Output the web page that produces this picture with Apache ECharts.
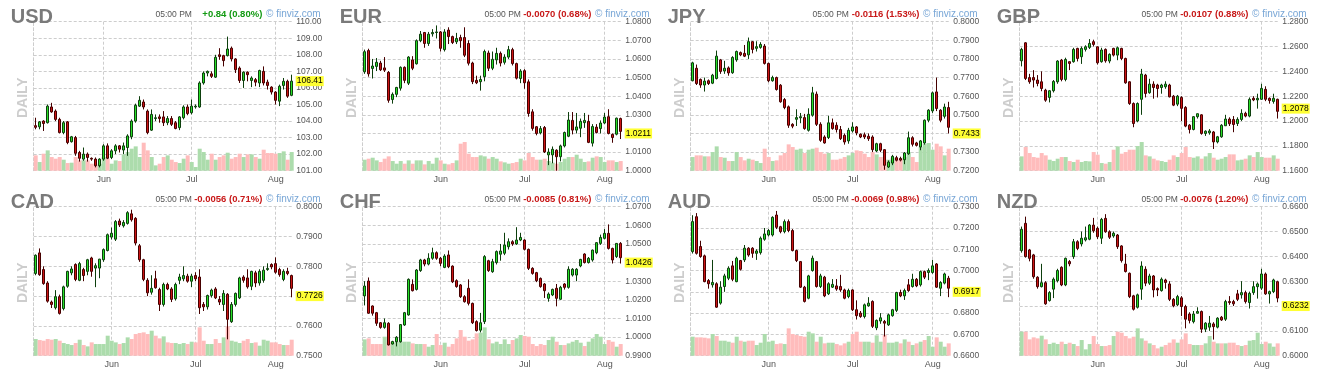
<!DOCTYPE html>
<html><head><meta charset="utf-8">
<script src="https://cdn.jsdelivr.net/npm/echarts@6/dist/echarts.min.js"></script>
<style>html,body{margin:0;padding:0;background:#fff}#c{width:1324px;height:383px}</style>
</head><body><div id="c"></div>
<script>
// Trading days (categories)
const usdDates = ["05-09","05-10","05-11","05-12","05-13","05-16","05-17","05-18","05-19","05-20","05-23","05-24","05-25","05-26","05-27","05-30","05-31",
"06-01","06-02","06-03","06-06","06-07","06-08","06-09","06-10","06-13","06-14","06-15","06-16","06-17","06-20","06-21","06-22","06-23","06-24","06-27","06-28","06-29","06-30",
"07-01","07-04","07-05","07-06","07-07","07-08","07-11","07-12","07-13","07-14","07-15","07-18","07-19","07-20","07-21","07-22","07-25","07-26","07-27","07-28","07-29",
"08-01","08-02","08-03","08-04","08-05"];
const futDates = ["05-04","05-05","05-06","05-09","05-10","05-11","05-12","05-13","05-16","05-17","05-18","05-19","05-20","05-23","05-24","05-25","05-26","05-27","05-31",
"06-01","06-02","06-03","06-06","06-07","06-08","06-09","06-10","06-13","06-14","06-15","06-16","06-17","06-21","06-22","06-23","06-24","06-27","06-28","06-29","06-30",
"07-01","07-05","07-06","07-07","07-08","07-11","07-12","07-13","07-14","07-15","07-18","07-19","07-20","07-21","07-22","07-25","07-26","07-27","07-28","07-29",
"08-01","08-02","08-03","08-04","08-05"];
const monthNames = {"05":"May","06":"Jun","07":"Jul","08":"Aug"};

// OHLC as [open, close, low, high]
const USD = [[103.72,103.62,103.5,104.2],[103.65,103.95,103.5,104.0],[104.0,103.85,103.4,104.05],[103.9,104.9,103.85,105.0],[104.85,104.55,104.5,105.1],[104.6,104.1,104.0,104.7],[104.1,103.3,103.25,104.2],[103.3,103.9,103.2,104.0],[103.95,102.7,102.6,104.0],[102.75,103.05,102.7,103.1],
[103.0,102.05,101.9,103.1],[102.1,101.75,101.55,102.2],[101.7,102.0,101.6,102.4],[102.0,101.8,101.55,102.1],[101.75,101.7,101.6,101.8],[101.7,101.3,101.2,101.8],[101.3,101.7,101.2,101.75],[101.7,102.5,101.6,102.6],[102.5,101.75,101.7,102.65],[101.8,102.2,101.7,102.3],
[102.2,102.5,102.0,102.6],[102.5,102.3,102.1,102.55],[102.25,102.5,102.0,102.7],[102.4,103.1,101.9,103.2],[103.05,104.0,102.9,104.1],[104.0,104.95,103.9,105.05],[104.9,105.25,104.85,105.5],[105.15,104.85,104.7,105.3],[104.6,103.3,103.2,104.7],[103.45,104.4,103.4,104.7],
[104.15,104.2,104.0,104.4],[104.25,104.15,103.9,104.4],[104.25,103.9,103.7,104.6],[103.9,104.15,103.75,104.3],[104.15,103.8,103.7,104.3],[103.9,103.55,103.5,104.0],[103.6,104.25,103.45,104.3],[104.2,104.85,104.1,104.95],[104.85,104.45,104.35,105.0],[104.5,104.9,104.4,105.3],
[104.85,104.9,104.75,105.0],[104.85,106.3,104.8,106.4],[106.3,106.9,106.2,107.0],[106.9,107.0,106.7,107.05],[106.85,106.7,106.6,107.0],[106.65,107.85,106.6,108.0],[108.0,107.9,107.7,108.4],[107.95,107.65,107.3,108.0],[107.95,108.35,107.9,109.1],[108.4,107.75,107.6,108.5],
[107.75,107.1,106.9,107.8],[107.2,106.45,106.3,107.3],[106.45,106.95,106.0,107.0],[106.95,106.8,106.4,107.0],[106.45,106.6,106.05,106.7],[106.5,106.35,106.1,106.6],[106.3,107.05,106.05,107.1],[107.0,106.3,106.15,107.3],[106.35,106.15,105.9,106.5],[106.05,105.75,105.6,106.1],
[105.75,105.25,105.0,105.8],[105.2,106.1,104.9,106.2],[106.15,106.4,105.9,106.6],[106.4,105.5,105.4,106.5],[105.55,106.41,105.5,106.8]];
const USD_VOL = [46,26,51,61,41,36,41,33,23,24,41,31,31,31,21,16,21,41,36,21,31,29,49,56,66,73,41,84,61,41,16,21,41,46,33,26,23,36,46,26,11,66,56,33,51,33,41,46,54,36,41,51,41,49,49,41,36,63,53,53,51,53,58,33,56];

const EUR = [[1.0531,1.0639,1.0520,1.0650],[1.0645,1.0520,1.0505,1.0655],[1.0549,1.0562,1.0495,1.0600],[1.0560,1.0582,1.0535,1.0605],[1.0578,1.0542,1.0535,1.0590],[1.0552,1.0540,1.0530,1.0610],[1.0528,1.0378,1.0365,1.0535],[1.0382,1.0410,1.0360,1.0420],[1.0410,1.0447,1.0395,1.0450],[1.0443,1.0555,1.0430,1.0560],
[1.0555,1.0485,1.0470,1.0560],[1.0470,1.0610,1.0460,1.0615],[1.0595,1.0550,1.0540,1.0615],[1.0574,1.0698,1.0570,1.0705],[1.0698,1.0733,1.0690,1.0750],[1.0742,1.0683,1.0660,1.0745],[1.0683,1.0733,1.0670,1.0745],[1.0735,1.0742,1.0720,1.0760],[1.0742,1.0745,1.0710,1.0780],[1.0745,1.0657,1.0640,1.0750],
[1.0650,1.0745,1.0640,1.0760],[1.0755,1.0720,1.0680,1.0770],[1.0720,1.0688,1.0680,1.0725],[1.0692,1.0710,1.0680,1.0740],[1.0715,1.0698,1.0660,1.0730],[1.0715,1.0620,1.0610,1.0770],[1.0683,1.0577,1.0565,1.0700],[1.0578,1.0478,1.0465,1.0585],[1.0485,1.0472,1.0465,1.0510],[1.0478,1.0490,1.0430,1.0510],
[1.0505,1.0640,1.0480,1.0650],[1.0632,1.0550,1.0535,1.0645],[1.0550,1.0598,1.0540,1.0640],[1.0595,1.0630,1.0570,1.0660],[1.0630,1.0578,1.0560,1.0640],[1.0582,1.0610,1.0570,1.0625],[1.0610,1.0650,1.0600,1.0670],[1.0650,1.0575,1.0565,1.0660],[1.0575,1.0497,1.0490,1.0580],[1.0495,1.0535,1.0470,1.0545],
[1.0537,1.0472,1.0440,1.0545],[1.0477,1.0307,1.0290,1.0490],[1.0316,1.0227,1.0215,1.0330],[1.0236,1.0200,1.0190,1.0240],[1.0203,1.0226,1.0195,1.0240],[1.0232,1.0101,1.0095,1.0240],[1.0085,1.0100,1.0030,1.0120],[1.0085,1.0115,1.0040,1.0130],[1.0110,1.0075,1.0000,1.0115],[1.0075,1.0133,1.0050,1.0140],
[1.0133,1.0205,1.0125,1.0210],[1.0185,1.0272,1.0180,1.0315],[1.0270,1.0218,1.0195,1.0315],[1.0218,1.0235,1.0200,1.0310],[1.0228,1.0265,1.0180,1.0280],[1.0258,1.0270,1.0230,1.0310],[1.0265,1.0152,1.0148,1.0300],[1.0148,1.0237,1.0130,1.0250],[1.0234,1.0205,1.0200,1.0250],[1.0226,1.0256,1.0200,1.0270],
[1.0256,1.0288,1.0250,1.0310],[1.0290,1.0200,1.0195,1.0330],[1.0195,1.0178,1.0150,1.0200],[1.0196,1.0282,1.0190,1.0285],[1.0280,1.0211,1.0170,1.0285]];
const EUR_VOL = [33,36,39,31,26,36,43,29,21,29,21,31,21,31,31,19,29,21,39,31,21,19,23,31,81,86,51,41,41,46,43,36,41,36,28,25,21,23,26,36,31,53,41,33,33,36,29,24,21,26,36,41,41,48,36,26,28,39,43,41,26,31,31,26,29];

const JPY = [[0.7683,0.7779,0.7680,0.7785],[0.7750,0.7668,0.7660,0.7770],[0.7690,0.7660,0.7645,0.7695],[0.7660,0.7681,0.7625,0.7700],[0.7683,0.7668,0.7660,0.7690],[0.7670,0.7713,0.7665,0.7720],[0.7695,0.7815,0.7690,0.7845],[0.7795,0.7733,0.7720,0.7800],[0.7735,0.7750,0.7720,0.7790],[0.7752,0.7725,0.7710,0.7760],
[0.7726,0.7808,0.7720,0.7815],[0.7795,0.7840,0.7785,0.7845],[0.7834,0.7822,0.7815,0.7840],[0.7830,0.7815,0.7810,0.7875],[0.7822,0.7893,0.7800,0.7915],[0.7893,0.7851,0.7830,0.7895],[0.7857,0.7866,0.7840,0.7895],[0.7862,0.7878,0.7855,0.7890],[0.7869,0.7776,0.7770,0.7880],[0.7776,0.7683,0.7675,0.7780],
[0.7683,0.7700,0.7678,0.7710],[0.7700,0.7636,0.7630,0.7705],[0.7659,0.7570,0.7565,0.7665],[0.7582,0.7539,0.7530,0.7590],[0.7543,0.7444,0.7430,0.7550],[0.7449,0.7439,0.7428,0.7455],[0.7476,0.7485,0.7440,0.7530],[0.7484,0.7490,0.7455,0.7510],[0.7485,0.7426,0.7420,0.7505],[0.7417,0.7503,0.7410,0.7535],
[0.7498,0.7618,0.7490,0.7650],[0.7611,0.7449,0.7440,0.7625],[0.7449,0.7363,0.7355,0.7460],[0.7381,0.7349,0.7345,0.7390],[0.7378,0.7457,0.7370,0.7495],[0.7457,0.7426,0.7420,0.7480],[0.7444,0.7421,0.7405,0.7460],[0.7421,0.7372,0.7365,0.7440],[0.7390,0.7354,0.7340,0.7400],[0.7360,0.7417,0.7345,0.7430],
[0.7413,0.7435,0.7405,0.7460],[0.7435,0.7403,0.7390,0.7440],[0.7396,0.7381,0.7375,0.7400],[0.7393,0.7381,0.7370,0.7405],[0.7385,0.7372,0.7360,0.7400],[0.7381,0.7313,0.7300,0.7390],[0.7306,0.7345,0.7300,0.7350],[0.7345,0.7310,0.7300,0.7350],[0.7313,0.7229,0.7205,0.7315],[0.7220,0.7246,0.7215,0.7255],
[0.7241,0.7277,0.7230,0.7285],[0.7270,0.7256,0.7250,0.7280],[0.7266,0.7257,0.7250,0.7275],[0.7259,0.7295,0.7235,0.7300],[0.7291,0.7377,0.7285,0.7410],[0.7377,0.7342,0.7330,0.7385],[0.7349,0.7336,0.7330,0.7355],[0.7327,0.7360,0.7310,0.7365],[0.7349,0.7471,0.7340,0.7475],[0.7471,0.7525,0.7460,0.7530],
[0.7521,0.7618,0.7510,0.7625],[0.7623,0.7534,0.7520,0.7700],[0.7525,0.7471,0.7460,0.7530],[0.7492,0.7542,0.7480,0.7560],[0.7539,0.7433,0.7400,0.7570]];
const JPY_VOL = [41,46,46,43,43,56,73,41,39,29,29,56,41,31,36,33,29,23,66,41,29,31,46,53,79,71,63,66,53,63,66,69,56,51,53,33,33,36,41,46,53,61,59,51,41,56,49,41,33,33,39,31,36,41,56,41,26,71,81,83,63,81,73,46,66];

const GBP = [[1.2485,1.2577,1.2440,1.2590],[1.2630,1.2343,1.2330,1.2635],[1.2350,1.2316,1.2300,1.2380],[1.2350,1.2330,1.2270,1.2410],[1.2330,1.2303,1.2280,1.2370],[1.2316,1.2262,1.2240,1.2400],[1.2249,1.2168,1.2155,1.2260],[1.2190,1.2244,1.2150,1.2250],[1.2244,1.2319,1.2230,1.2330],[1.2316,1.2483,1.2300,1.2490],
[1.2491,1.2335,1.2320,1.2500],[1.2335,1.2496,1.2320,1.2510],[1.2478,1.2464,1.2410,1.2480],[1.2478,1.2577,1.2470,1.2590],[1.2585,1.2504,1.2480,1.2590],[1.2518,1.2585,1.2460,1.2600],[1.2577,1.2598,1.2560,1.2610],[1.2593,1.2625,1.2580,1.2660],[1.2639,1.2617,1.2600,1.2655],[1.2598,1.2469,1.2455,1.2600],
[1.2478,1.2572,1.2470,1.2590],[1.2577,1.2485,1.2470,1.2585],[1.2483,1.2537,1.2465,1.2545],[1.2585,1.2531,1.2520,1.2590],[1.2531,1.2590,1.2490,1.2600],[1.2585,1.2504,1.2490,1.2590],[1.2504,1.2308,1.2300,1.2510],[1.2316,1.2141,1.2130,1.2320],[1.2141,1.1980,1.1950,1.2150],[1.2000,1.2141,1.1990,1.2150],
[1.2175,1.2378,1.2050,1.2420],[1.2370,1.2222,1.2190,1.2380],[1.2228,1.2297,1.2220,1.2340],[1.2297,1.2270,1.2180,1.2320],[1.2290,1.2262,1.2190,1.2300],[1.2270,1.2290,1.2220,1.2300],[1.2276,1.2297,1.2260,1.2320],[1.2290,1.2195,1.2190,1.2300],[1.2200,1.2128,1.2120,1.2210],[1.2136,1.2200,1.2120,1.2210],
[1.2190,1.2102,1.2000,1.2200],[1.2110,1.1959,1.1950,1.2120],[1.1967,1.1932,1.1900,1.1975],[1.1932,1.2035,1.1925,1.2040],[1.2035,1.2059,1.2020,1.2060],[1.2050,1.1900,1.1890,1.2055],[1.1900,1.1918,1.1880,1.1925],[1.1905,1.1920,1.1890,1.1935],[1.1912,1.1832,1.1775,1.1920],[1.1832,1.1873,1.1820,1.1880],
[1.1873,1.1966,1.1865,1.1975],[1.1962,1.2016,1.1960,1.2050],[1.2016,1.1978,1.1960,1.2030],[1.2012,1.1972,1.1910,1.2040],[1.1980,1.2013,1.1960,1.2030],[1.2013,1.2062,1.2000,1.2095],[1.2062,1.2040,1.2030,1.2075],[1.2040,1.2175,1.2030,1.2190],[1.2183,1.2170,1.2160,1.2200],[1.2170,1.2183,1.2100,1.2220],
[1.2175,1.2263,1.2170,1.2300],[1.2255,1.2175,1.2160,1.2280],[1.2183,1.2165,1.2140,1.2190],[1.2158,1.2183,1.2140,1.2220],[1.2175,1.2078,1.2020,1.2180]];
const GBP_VOL = [43,71,53,41,39,53,46,33,29,36,41,41,29,26,33,26,29,28,56,48,23,21,26,63,73,51,56,63,63,74,86,46,43,36,31,29,26,33,46,41,53,71,41,39,43,36,43,53,39,33,36,41,49,49,31,33,36,46,41,56,41,39,39,46,36];

const CAD = [[0.7776,0.7837,0.7770,0.7840],[0.7845,0.7772,0.7768,0.7860],[0.7789,0.7742,0.7738,0.7800],[0.7744,0.7683,0.7678,0.7750],[0.7680,0.7672,0.7660,0.7685],[0.7661,0.7698,0.7655,0.7720],[0.7698,0.7642,0.7638,0.7705],[0.7658,0.7731,0.7652,0.7735],[0.7733,0.7783,0.7728,0.7785],[0.7778,0.7791,0.7770,0.7800],
[0.7806,0.7756,0.7750,0.7810],[0.7753,0.7809,0.7750,0.7815],[0.7789,0.7769,0.7750,0.7795],[0.7783,0.7822,0.7770,0.7825],[0.7828,0.7783,0.7765,0.7832],[0.7794,0.7802,0.7730,0.7810],[0.7794,0.7824,0.7760,0.7825],[0.7822,0.7856,0.7815,0.7860],[0.7853,0.7906,0.7850,0.7910],[0.7898,0.7911,0.7890,0.7930],
[0.7891,0.7950,0.7885,0.7955],[0.7952,0.7939,0.7932,0.7960],[0.7936,0.7947,0.7930,0.7955],[0.7944,0.7980,0.7940,0.7985],[0.7976,0.7956,0.7950,0.7990],[0.7961,0.7878,0.7870,0.7965],[0.7869,0.7822,0.7815,0.7875],[0.7822,0.7756,0.7750,0.7825],[0.7753,0.7711,0.7700,0.7760],[0.7713,0.7726,0.7705,0.7770],
[0.7758,0.7728,0.7725,0.7785],[0.7722,0.7672,0.7650,0.7728],[0.7672,0.7739,0.7665,0.7745],[0.7739,0.7724,0.7720,0.7745],[0.7724,0.7689,0.7680,0.7730],[0.7691,0.7739,0.7685,0.7745],[0.7753,0.7764,0.7740,0.7775],[0.7758,0.7769,0.7750,0.7800],[0.7767,0.7750,0.7745,0.7775],[0.7750,0.7767,0.7730,0.7775],
[0.7769,0.7758,0.7750,0.7780],[0.7764,0.7661,0.7640,0.7790],[0.7672,0.7664,0.7650,0.7680],[0.7664,0.7702,0.7655,0.7705],[0.7702,0.7720,0.7695,0.7725],[0.7724,0.7694,0.7690,0.7730],[0.7689,0.7680,0.7670,0.7700],[0.7672,0.7709,0.7650,0.7720],[0.7706,0.7622,0.7555,0.7710],[0.7614,0.7672,0.7610,0.7680],
[0.7672,0.7709,0.7665,0.7712],[0.7694,0.7761,0.7690,0.7765],[0.7764,0.7753,0.7745,0.7770],[0.7761,0.7731,0.7725,0.7790],[0.7733,0.7783,0.7720,0.7785],[0.7778,0.7744,0.7730,0.7785],[0.7744,0.7783,0.7735,0.7790],[0.7753,0.7787,0.7745,0.7800],[0.7789,0.7793,0.7785,0.7810],[0.7806,0.7798,0.7790,0.7810],
[0.7809,0.7780,0.7775,0.7830],[0.7789,0.7772,0.7765,0.7795],[0.7756,0.7783,0.7750,0.7790],[0.7783,0.7776,0.7770,0.7795],[0.7769,0.7726,0.7696,0.7772]];
const CAD_VOL = [50,47,45,50,48,50,45,38,35,32,38,48,32,28,40,35,35,35,60,45,40,35,38,55,50,65,68,70,65,75,60,52,58,40,38,38,35,38,35,42,40,85,45,35,35,50,38,55,88,45,42,38,45,50,38,40,30,48,45,40,40,35,32,32,48];

const CHF = [[1.0221,1.0274,1.0170,1.0300],[1.0301,1.0128,1.0125,1.0320],[1.0167,1.0128,1.0115,1.0170],[1.0131,1.0074,1.0060,1.0135],[1.0077,1.0052,1.0045,1.0080],[1.0052,1.0077,1.0045,1.0100],[1.0074,0.9958,0.9955,1.0080],[0.9963,0.9976,0.9960,0.9980],[0.9975,0.9999,0.9950,1.0005],[0.9975,1.0067,0.9970,1.0070],
[1.0065,1.0131,1.0060,1.0135],[1.0119,1.0310,1.0115,1.0315],[1.0283,1.0249,1.0245,1.0310],[1.0256,1.0360,1.0250,1.0365],[1.0357,1.0414,1.0350,1.0420],[1.0414,1.0392,1.0380,1.0420],[1.0392,1.0423,1.0385,1.0450],[1.0423,1.0453,1.0415,1.0480],[1.0453,1.0423,1.0415,1.0460],[1.0423,1.0396,1.0380,1.0430],
[1.0374,1.0435,1.0370,1.0445],[1.0441,1.0378,1.0370,1.0465],[1.0381,1.0297,1.0290,1.0385],[1.0303,1.0271,1.0265,1.0310],[1.0280,1.0217,1.0210,1.0285],[1.0217,1.0190,1.0185,1.0225],[1.0262,1.0181,1.0170,1.0310],[1.0181,1.0077,1.0070,1.0185],[1.0083,1.0035,1.0030,1.0090],[1.0037,1.0077,1.0025,1.0130],
[1.0083,1.0432,1.0070,1.0440],[1.0410,1.0357,1.0350,1.0415],[1.0351,1.0405,1.0345,1.0420],[1.0400,1.0459,1.0390,1.0465],[1.0445,1.0462,1.0410,1.0500],[1.0450,1.0494,1.0440,1.0560],[1.0485,1.0512,1.0470,1.0530],[1.0512,1.0500,1.0490,1.0520],[1.0500,1.0521,1.0495,1.0590],[1.0521,1.0535,1.0515,1.0560],
[1.0521,1.0471,1.0465,1.0525],[1.0471,1.0369,1.0360,1.0475],[1.0369,1.0342,1.0335,1.0375],[1.0346,1.0303,1.0295,1.0350],[1.0315,1.0271,1.0265,1.0320],[1.0285,1.0249,1.0210,1.0290],[1.0208,1.0231,1.0190,1.0240],[1.0226,1.0256,1.0220,1.0260],[1.0262,1.0208,1.0165,1.0285],[1.0203,1.0267,1.0200,1.0275],
[1.0285,1.0267,1.0255,1.0290],[1.0267,1.0364,1.0260,1.0380],[1.0333,1.0364,1.0325,1.0370],[1.0333,1.0364,1.0300,1.0370],[1.0382,1.0417,1.0375,1.0420],[1.0446,1.0400,1.0395,1.0450],[1.0400,1.0423,1.0395,1.0430],[1.0414,1.0467,1.0405,1.0470],[1.0453,1.0507,1.0445,1.0510],[1.0503,1.0535,1.0495,1.0550],
[1.0530,1.0557,1.0525,1.0580],[1.0557,1.0476,1.0470,1.0605],[1.0476,1.0414,1.0395,1.0480],[1.0432,1.0503,1.0425,1.0505],[1.0503,1.0426,1.0395,1.0510]];
const CHF_VOL = [49,52,35,35,35,57,42,39,42,42,42,42,37,35,35,35,27,32,65,32,39,27,35,52,77,57,45,49,67,69,85,49,37,42,35,49,35,47,52,62,59,57,35,29,35,32,47,57,42,32,32,37,42,47,39,29,42,52,65,57,35,47,42,27,35];

const AUD = [[0.7089,0.7230,0.7080,0.7260],[0.7253,0.7081,0.7075,0.7270],[0.7113,0.7066,0.7060,0.7140],[0.7069,0.6948,0.6945,0.7075],[0.6953,0.6938,0.6915,0.6960],[0.6933,0.6944,0.6920,0.7050],[0.6938,0.6828,0.6825,0.6945],[0.6847,0.6922,0.6840,0.6950],[0.6925,0.6975,0.6900,0.6985],[0.6964,0.7011,0.6955,0.7020],
[0.7022,0.6959,0.6950,0.7045],[0.6948,0.7058,0.6945,0.7065],[0.7047,0.7006,0.7000,0.7050],[0.7050,0.7105,0.7040,0.7120],[0.7105,0.7073,0.7065,0.7110],[0.7105,0.7081,0.7060,0.7110],[0.7081,0.7092,0.7050,0.7100],[0.7084,0.7152,0.7075,0.7160],[0.7147,0.7172,0.7140,0.7200],[0.7167,0.7188,0.7160,0.7195],
[0.7167,0.7250,0.7160,0.7255],[0.7261,0.7203,0.7195,0.7280],[0.7206,0.7183,0.7175,0.7210],[0.7183,0.7230,0.7175,0.7240],[0.7230,0.7188,0.7180,0.7240],[0.7188,0.7094,0.7090,0.7195],[0.7094,0.7047,0.7040,0.7098],[0.7042,0.6922,0.6918,0.7045],[0.6922,0.6855,0.6850,0.6928],[0.6870,0.6975,0.6865,0.6980],
[0.7000,0.7058,0.6995,0.7070],[0.7042,0.6925,0.6920,0.7045],[0.6925,0.6975,0.6918,0.6985],[0.6969,0.6881,0.6875,0.6975],[0.6891,0.6938,0.6885,0.6945],[0.6922,0.6935,0.6918,0.6960],[0.6928,0.6913,0.6905,0.6960],[0.6925,0.6909,0.6900,0.6980],[0.6909,0.6870,0.6865,0.6915],[0.6878,0.6906,0.6870,0.6915],
[0.6909,0.6816,0.6810,0.6912],[0.6816,0.6788,0.6770,0.6860],[0.6800,0.6784,0.6778,0.6810],[0.6784,0.6839,0.6775,0.6845],[0.6834,0.6847,0.6830,0.6875],[0.6855,0.6738,0.6730,0.6860],[0.6731,0.6766,0.6720,0.6770],[0.6763,0.6778,0.6750,0.6800],[0.6761,0.6753,0.6690,0.6768],[0.6745,0.6792,0.6740,0.6798],
[0.6788,0.6816,0.6783,0.6820],[0.6813,0.6897,0.6805,0.6900],[0.6897,0.6881,0.6875,0.6910],[0.6881,0.6906,0.6862,0.6915],[0.6933,0.6906,0.6900,0.6960],[0.6925,0.6959,0.6920,0.6985],[0.6959,0.6928,0.6922,0.6965],[0.6933,0.6995,0.6925,0.7000],[0.6995,0.6969,0.6960,0.7000],[0.6991,0.7000,0.6955,0.7010],
[0.6991,0.7022,0.6985,0.7050],[0.7031,0.6922,0.6918,0.7035],[0.6917,0.6944,0.6880,0.6950],[0.6941,0.6984,0.6935,0.6990],[0.6964,0.6917,0.6875,0.6975]];
const AUD_VOL = [57,55,55,54,52,65,59,45,45,42,39,57,45,42,45,45,32,39,65,42,45,35,37,35,82,65,62,59,57,72,67,42,57,37,39,39,35,31,37,42,65,72,42,42,42,39,61,42,62,39,39,42,37,49,42,32,37,42,47,59,27,55,42,27,37];

const NZD = [[0.6423,0.6509,0.6415,0.6520],[0.6533,0.6399,0.6395,0.6560],[0.6426,0.6392,0.6380,0.6430],[0.6406,0.6318,0.6310,0.6410],[0.6316,0.6278,0.6270,0.6320],[0.6278,0.6294,0.6275,0.6370],[0.6294,0.6209,0.6205,0.6300],[0.6222,0.6254,0.6218,0.6260],[0.6268,0.6308,0.6232,0.6315],[0.6302,0.6343,0.6295,0.6350],
[0.6356,0.6285,0.6280,0.6360],[0.6285,0.6392,0.6280,0.6395],[0.6379,0.6370,0.6360,0.6385],[0.6399,0.6459,0.6390,0.6470],[0.6459,0.6432,0.6425,0.6465],[0.6450,0.6473,0.6440,0.6500],[0.6466,0.6475,0.6460,0.6520],[0.6469,0.6526,0.6465,0.6530],[0.6526,0.6503,0.6495,0.6555],[0.6513,0.6479,0.6470,0.6520],
[0.6473,0.6549,0.6450,0.6555],[0.6553,0.6499,0.6495,0.6570],[0.6499,0.6477,0.6470,0.6505],[0.6482,0.6493,0.6475,0.6500],[0.6486,0.6439,0.6430,0.6490],[0.6442,0.6383,0.6375,0.6445],[0.6369,0.6339,0.6335,0.6410],[0.6332,0.6238,0.6232,0.6335],[0.6241,0.6187,0.6182,0.6245],[0.6195,0.6245,0.6190,0.6250],
[0.6268,0.6361,0.6225,0.6380],[0.6348,0.6292,0.6280,0.6360],[0.6292,0.6321,0.6285,0.6330],[0.6321,0.6265,0.6235,0.6325],[0.6270,0.6265,0.6240,0.6275],[0.6262,0.6308,0.6258,0.6315],[0.6305,0.6295,0.6270,0.6310],[0.6289,0.6227,0.6220,0.6300],[0.6227,0.6201,0.6195,0.6232],[0.6205,0.6238,0.6200,0.6245],
[0.6233,0.6198,0.6160,0.6240],[0.6198,0.6147,0.6110,0.6205],[0.6168,0.6142,0.6130,0.6175],[0.6137,0.6168,0.6130,0.6180],[0.6171,0.6178,0.6170,0.6195],[0.6178,0.6107,0.6092,0.6182],[0.6107,0.6131,0.6095,0.6135],[0.6115,0.6131,0.6100,0.6160],[0.6128,0.6117,0.6065,0.6135],[0.6115,0.6151,0.6110,0.6155],
[0.6155,0.6144,0.6140,0.6160],[0.6147,0.6218,0.6140,0.6225],[0.6218,0.6214,0.6205,0.6240],[0.6218,0.6209,0.6200,0.6225],[0.6249,0.6227,0.6220,0.6265],[0.6245,0.6254,0.6230,0.6300],[0.6254,0.6218,0.6210,0.6262],[0.6214,0.6251,0.6190,0.6258],[0.6254,0.6278,0.6245,0.6300],[0.6278,0.6289,0.6230,0.6295],
[0.6272,0.6329,0.6265,0.6350],[0.6329,0.6249,0.6245,0.6335],[0.6249,0.6258,0.6210,0.6262],[0.6258,0.6305,0.6252,0.6310],[0.6298,0.6232,0.6215,0.6302]];
const NZD_VOL = [72,72,49,55,52,60,49,35,39,35,42,35,39,35,29,47,19,35,59,35,29,29,32,59,72,69,59,52,57,82,52,45,37,32,22,27,32,39,49,39,49,67,35,32,32,32,37,59,42,37,37,37,39,39,32,29,32,45,47,69,35,42,37,27,37];

// Header texts
const names   = ["USD","EUR","JPY","GBP","CAD","CHF","AUD","NZD"];
const changes = ["+0.84 (0.80%)","-0.0070 (0.68%)","-0.0116 (1.53%)","-0.0107 (0.88%)","-0.0056 (0.71%)","-0.0085 (0.81%)","-0.0069 (0.98%)","-0.0076 (1.20%)"];
// y-axis ticks: [min, max, step, decimals]
const yTicks = [[101,110,1,2],[1.00,1.08,0.01,4],[0.72,0.80,0.01,4],[1.16,1.28,0.02,4],[0.75,0.80,0.01,4],[0.99,1.07,0.01,4],[0.66,0.73,0.01,4],[0.60,0.66,0.01,4]];
const ohlcs = [USD,EUR,JPY,GBP,CAD,CHF,AUD,NZD];
const vols  = [USD_VOL,EUR_VOL,JPY_VOL,GBP_VOL,CAD_VOL,CHF_VOL,AUD_VOL,NZD_VOL];
const dateSets = [usdDates,futDates,futDates,futDates,futDates,futDates,futDates,futDates];

// layout
const COL_X = [33.7, 362.7, 690.7, 1019.7];
const ROW_Y = [21.7, 206.7];
const GW = 260, GH = 149;
const FONT = "'Liberation Sans', Arial, Helvetica, sans-serif";
const GRID_C = '#cdcdcd';
const DASH = [3, 2];

const grids = [], xAxes = [], yAxes = [], series = [], graphics = [];
for (let i = 0; i < 8; i++) {
  const gx = COL_X[i % 4], gy = ROW_Y[Math.floor(i / 4)];
  const dates = dateSets[i];
  const isMonthStart = (idx) => idx > 0 && dates[idx].slice(0, 2) !== dates[idx - 1].slice(0, 2);
  grids.push({left: gx, top: gy, width: GW, height: GH});
  xAxes.push({
    type: 'category', gridIndex: i, data: dates, boundaryGap: true,
    axisLine: {show: false, onZero: false}, axisTick: {show: false},
    axisLabel: {interval: (idx) => isMonthStart(idx), formatter: (v) => monthNames[v.slice(0, 2)],
      fontSize: 9, color: '#555', margin: 4, fontFamily: FONT},
    splitLine: {show: true, interval: (idx) => isMonthStart(idx), alignWithLabel: true,
      lineStyle: {color: GRID_C, type: DASH, width: 1}}
  });
  const t = yTicks[i];
  yAxes.push({
    type: 'value', gridIndex: i, position: 'right', min: t[0], max: t[1], interval: t[2],
    axisLine: {show: false}, axisTick: {show: false},
    axisLabel: {formatter: (v) => v.toFixed(t[3]), fontSize: 8.5, color: '#555', margin: 2.5, fontFamily: FONT},
    splitLine: {show: true, lineStyle: {color: GRID_C, type: DASH, width: 1}}
  });
  yAxes.push({type: 'value', gridIndex: i, position: 'right', min: 0, max: 447, show: false});
  yAxes.push({type: 'value', gridIndex: i, position: 'left', min: 0, max: 1,
    axisLine: {show: true, onZero: false, lineStyle: {color: GRID_C, type: DASH, width: 1}},
    axisTick: {show: false}, axisLabel: {show: false}, splitLine: {show: false}});

  const ohlc = ohlcs[i];
  series.push({
    type: 'bar', xAxisIndex: i, yAxisIndex: 3 * i + 1, barCategoryGap: '0%', z: 1, silent: true,
    data: vols[i].map((v, k) => ({value: v, itemStyle: {color: ohlc[k][1] >= ohlc[k][0] ? '#acdcac' : '#ffbcbc'}}))
  });
  const last = ohlc[ohlc.length - 1][1];
  series.push({
    type: 'candlestick', xAxisIndex: i, yAxisIndex: 3 * i, z: 3, barWidth: 3, silent: true,
    data: ohlc,
    itemStyle: {color: '#27e027', color0: '#cc1414', borderColor: '#0d3f0d', borderColor0: '#460000', borderWidth: 1},
    markLine: {silent: true, symbol: 'none', animation: false,
      lineStyle: {color: 'rgba(0,0,0,0)', width: 1, type: 'solid'},
      label: {show: true, position: 'end', distance: 2, formatter: () => last.toFixed(t[3]),
        backgroundColor: '#ffff33', color: '#000', fontSize: 8.5, padding: [1, 1, 0, 1], fontFamily: FONT},
      data: [{yAxis: last}]}
  });

  graphics.push({type: 'text', x: gx - 23, y: gy - 4.5, z: 10,
    style: {text: names[i], font: 'bold 20px ' + FONT, fill: '#7a7a7a', textAlign: 'left', textVerticalAlign: 'middle'}});
  graphics.push({type: 'text', x: gx - 10.5, y: gy + GH / 2 + 1.5, rotation: Math.PI / 2, z: 10,
    style: {text: 'DAILY', font: 'bold 14px ' + FONT, fill: '#cdcdcd', textAlign: 'center', textVerticalAlign: 'middle'}});
  graphics.push({type: 'text', x: gx + 121.8, y: gy - 7.5, z: 10,
    style: {text: '05:00 PM', font: '8.5px ' + FONT, fill: '#555', textAlign: 'left', textVerticalAlign: 'middle'}});
  graphics.push({type: 'text', x: gx + 228.6, y: gy - 7.5, z: 10,
    style: {text: changes[i], font: 'bold 9.5px ' + FONT, fill: changes[i][0] === '+' ? '#129a12' : '#c81818', textAlign: 'right', textVerticalAlign: 'middle'}});
  graphics.push({type: 'text', x: gx + 232.3, y: gy - 7.5, z: 10,
    style: {text: '\u00A9 finviz.com', font: '10px ' + FONT, fill: '#78a6d6', textAlign: 'left', textVerticalAlign: 'middle'}});
}

const chart = echarts.init(document.getElementById('c'), null, {renderer: 'canvas'});
chart.setOption({
  animation: false, backgroundColor: '#fff',
  grid: grids, xAxis: xAxes, yAxis: yAxes, series: series, graphic: graphics
});
</script></body></html>
